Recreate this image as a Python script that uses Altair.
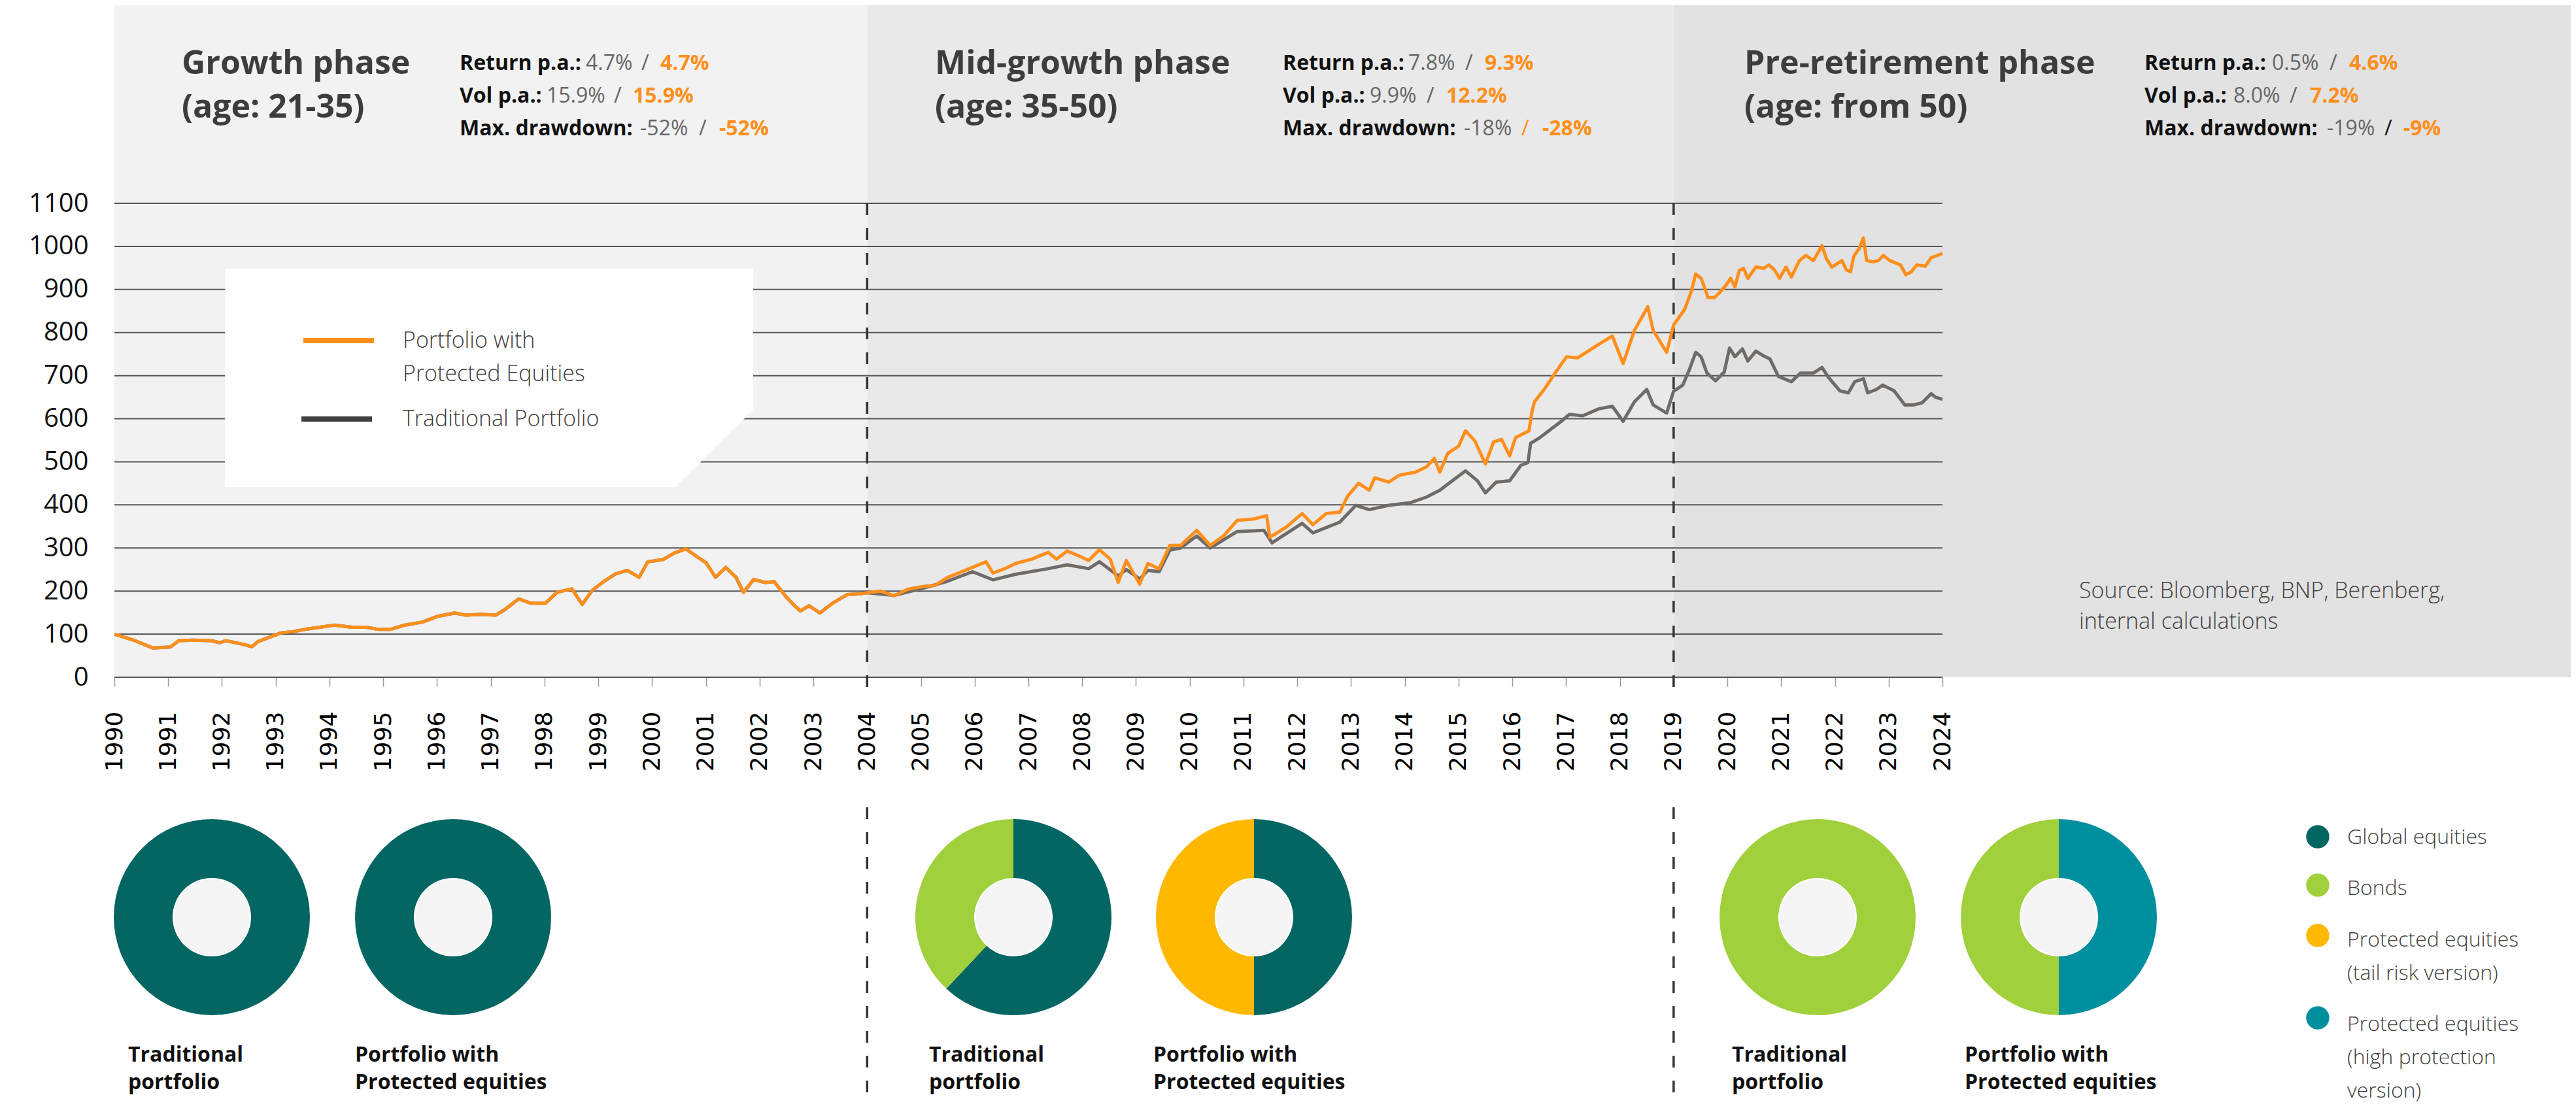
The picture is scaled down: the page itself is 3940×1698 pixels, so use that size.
import altair as alt
import pandas as pd

# ---------------- data ----------------
growth_years = [1990.0, 1990.38, 1990.71, 1991.04, 1991.2, 1991.47, 1991.8, 1991.96, 1992.07, 1992.34,
                1992.56, 1992.67, 1992.89, 1993.1, 1993.33, 1993.54, 1993.82, 1994.09, 1994.42, 1994.69,
                1994.91, 1995.13, 1995.4, 1995.73, 1996.0, 1996.33, 1996.54, 1996.82, 1997.09, 1997.25,
                1997.52, 1997.74, 1998.02, 1998.23, 1998.51, 1998.7, 1998.89, 1999.1, 1999.32, 1999.54,
                1999.76, 1999.92, 2000.2, 2000.41, 2000.63, 2000.8, 2001.01, 2001.18, 2001.37, 2001.56,
                2001.7, 2001.89, 2002.1, 2002.27, 2002.49, 2002.65, 2002.76, 2002.92, 2003.12, 2003.36,
                2003.63, 2003.9]
growth_values = [100, 85, 68, 70, 85, 86, 85, 80, 85, 78,
                 71, 83, 93, 103, 106, 111, 116, 121, 116, 116,
                 111, 111, 121, 128, 141, 149, 144, 146, 144, 156,
                 182, 172, 172, 197, 205, 169, 202, 222, 240, 248,
                 232, 268, 273, 288, 298, 283, 265, 232, 255, 232,
                 197, 227, 220, 222, 187, 166, 154, 166, 149, 172,
                 192, 194]

mid_years_protected = [2004.0, 2004.25, 2004.5, 2004.75, 2005.05, 2005.26, 2005.5, 2005.76, 2005.96, 2006.21,
                       2006.34, 2006.56, 2006.76, 2007.06, 2007.37, 2007.52, 2007.72, 2007.97, 2008.12, 2008.32,
                       2008.52, 2008.67, 2008.82, 2009.07, 2009.22, 2009.43, 2009.63, 2009.83, 2010.13, 2010.38,
                       2010.63, 2010.88, 2011.18, 2011.43, 2011.49, 2011.79, 2012.09, 2012.29, 2012.54, 2012.79,
                       2012.94, 2013.14, 2013.34, 2013.44, 2013.7, 2013.9, 2014.2, 2014.4, 2014.55, 2014.65,
                       2014.8, 2015.0, 2015.13, 2015.3, 2015.5, 2015.65, 2015.8, 2015.95, 2016.06, 2016.31,
                       2016.36, 2016.41, 2016.61, 2016.81, 2017.01, 2017.21, 2017.41, 2017.61, 2017.86, 2018.06,
                       2018.27, 2018.52, 2018.62, 2018.87, 2019.0]
mid_values_protected = [196, 200, 189, 204, 211, 213, 232, 245, 255, 268,
                        242, 252, 264, 274, 290, 274, 293, 280, 271, 296,
                        274, 220, 271, 216, 264, 252, 306, 306, 341, 306,
                        328, 364, 367, 375, 325, 348, 380, 354, 380, 383,
                        421, 450, 434, 463, 453, 469, 476, 488, 508, 476,
                        520, 536, 572, 549, 495, 546, 552, 514, 556, 572,
                        613, 639, 671, 709, 744, 741, 757, 773, 792, 728,
                        805, 860, 805, 754, 818]

mid_years_traditional = [2004.0, 2004.5, 2005.05, 2005.5, 2005.96, 2006.34, 2006.76, 2007.37, 2007.72, 2008.12,
                         2008.32, 2008.67, 2008.82, 2009.07, 2009.22, 2009.43, 2009.63, 2009.83, 2010.13, 2010.38,
                         2010.88, 2011.38, 2011.53, 2012.09, 2012.29, 2012.79, 2013.09, 2013.34, 2013.7, 2014.1,
                         2014.4, 2014.65, 2014.85, 2015.13, 2015.35, 2015.5, 2015.7, 2015.95, 2016.16, 2016.29,
                         2016.34, 2016.51, 2016.71, 2016.91, 2017.06, 2017.31, 2017.61, 2017.86, 2018.06, 2018.27,
                         2018.5, 2018.62, 2018.87, 2019.0]
mid_values_traditional = [196, 190, 207, 223, 245, 226, 239, 252, 261, 252,
                          268, 235, 250, 228, 248, 245, 295, 300, 328, 300,
                          338, 341, 312, 357, 335, 360, 399, 389, 399, 405,
                          418, 434, 453, 479, 456, 428, 453, 456, 492, 498,
                          543, 556, 575, 594, 610, 607, 623, 629, 594, 639,
                          668, 632, 613, 664]

pre_years_protected = [2019.07, 2019.21, 2019.33, 2019.41, 2019.51, 2019.6, 2019.64, 2019.76, 2019.88, 2019.98,
                       2020.06, 2020.14, 2020.22, 2020.3, 2020.38, 2020.53, 2020.67, 2020.77, 2020.87, 2020.97,
                       2021.09, 2021.19, 2021.34, 2021.46, 2021.6, 2021.76, 2021.84, 2021.94, 2022.13, 2022.21,
                       2022.29, 2022.35, 2022.45, 2022.53, 2022.59, 2022.71, 2022.81, 2022.9, 2023.02, 2023.22,
                       2023.32, 2023.42, 2023.52, 2023.68, 2023.79, 2023.91, 2024.0]
pre_values_protected = [830, 855, 896, 936, 926, 896, 881, 881, 896, 911,
                        926, 906, 944, 949, 926, 952, 949, 957, 946, 926,
                        952, 929, 967, 979, 967, 1002, 972, 952, 967, 946,
                        941, 977, 995, 1020, 967, 964, 967, 979, 967, 957,
                        934, 941, 957, 954, 974, 979, 984]

pre_years_traditional = [2019.17, 2019.29, 2019.41, 2019.51, 2019.62, 2019.78, 2019.94, 2020.04, 2020.14, 2020.28,
                         2020.38, 2020.53, 2020.67, 2020.79, 2020.95, 2021.19, 2021.36, 2021.6, 2021.76, 2021.88,
                         2022.09, 2022.25, 2022.37, 2022.53, 2022.61, 2022.77, 2022.89, 2023.1, 2023.3, 2023.46,
                         2023.62, 2023.79, 2023.87, 2024.0]
pre_values_traditional = [678, 713, 754, 744, 706, 688, 708, 764, 744, 762,
                          734, 757, 746, 739, 698, 686, 706, 706, 719, 696,
                          665, 660, 686, 693, 660, 668, 678, 665, 632, 632,
                          637, 658, 650, 645]

y_ticks = list(range(0, 1101, 100))
x_ticks = list(range(1990, 2025))
phase_starts = [1990, 2004, 2019]
phase_ends = [2004, 2019]
phase_dividers = [2004, 2019]

phase_titles = [["Growth phase", "(age: 21-35)"],
                ["Mid-growth phase", "(age: 35-50)"],
                ["Pre-retirement phase", "(age: from 50)"]]
stat_labels = ["Return p.a.:", "Vol p.a.:", "Max. drawdown:"]
stat_traditional = [["4.7%", "15.9%", "-52%"], ["7.8%", "9.9%", "-18%"], ["0.5%", "8.0%", "-19%"]]
stat_protected = [["4.7%", "15.9%", "-52%"], ["9.3%", "12.2%", "-28%"], ["4.6%", "7.2%", "-9%"]]

series_names = ["Portfolio with Protected Equities", "Traditional Portfolio"]
legend_lines = [["Portfolio with", "Protected Equities"], ["Traditional Portfolio"]]
source_lines = ["Source: Bloomberg, BNP, Berenberg,", "internal calculations"]

asset_classes = ["Global equities", "Bonds",
                 "Protected equities (tail risk version)", "Protected equities (high protection version)"]
asset_legend_lines = [["Global equities"], ["Bonds"],
                      ["Protected equities", "(tail risk version)"],
                      ["Protected equities", "(high protection", "version)"]]
donut_assets = [["Global equities"],
                ["Global equities"],
                ["Global equities", "Bonds"],
                ["Global equities", "Protected equities (tail risk version)"],
                ["Bonds"],
                ["Protected equities (high protection version)", "Bonds"]]
donut_weights = [[100], [100], [62, 38], [50, 50], [100], [50, 50]]
donut_labels = [["Traditional", "portfolio"], ["Portfolio with", "Protected equities"]] * 3

# ---------------- styles / layout ----------------
ORANGE = "#ff8f1c"
GREY_LINE = "#6e6b68"
TXT_DARK = "#3d3d3d"
TXT_GREY = "#666666"
TXT_BLACK = "#111111"
asset_colors = ["#036663", "#a0d03c", "#ffb800", "#008f9f"]
phase_bg = ["#f2f2f2", "#e9e9e9", "#e2e2e2"]

W, H = 2796, 725
OX, OY = 175, 311          # page position of the plot origin


def px(x):
    return x - OX


def py(y):
    return y - OY


xs = alt.Scale(domain=[1990, 2024], nice=False, zero=False)
ys = alt.Scale(domain=[0, 1100], nice=False, zero=True)
x_axis = alt.Axis(values=x_ticks, format="d", labelAngle=270, labelFont="DejaVu Sans",
                  labelFontSize=36, labelColor="#000000", tickSize=14, tickColor="#9a9a9a",
                  tickWidth=1.5, domain=False, grid=False, labelPadding=38, title=None,
                  labelOverlap=False, labelFlush=False)
y_axis = alt.Axis(values=y_ticks, format="d", labelFont="Open Sans", labelFontSize=40,
                  labelColor="#111111", ticks=False, domain=False, grid=False, labelPadding=40,
                  title=None, labelOverlap=False, labelFlush=False)


def xenc(field):
    return alt.X(f"{field}:Q", scale=xs, axis=x_axis)


def yenc(field):
    return alt.Y(f"{field}:Q", scale=ys, axis=y_axis)


def one():
    return pd.DataFrame({"k": [0]})


def text_layer(s, x, y, size, color, weight="normal", font="Open Sans"):
    return alt.Chart(pd.DataFrame({"t": [s]})).mark_text(
        align="left", baseline="alphabetic", font=font, fontSize=size,
        fontWeight=weight, color=color
    ).encode(x=alt.value(px(x)), y=alt.value(py(y)), text="t:N")


layers = []

# phase backgrounds
bg12 = pd.DataFrame({"start": phase_starts[:2], "end": phase_ends})
for i in range(2):
    layers.append(alt.Chart(bg12.iloc[[i]]).mark_rect(color=phase_bg[i]).encode(
        x=xenc("start"), x2="end:Q", y=alt.value(-303), y2=alt.value(H)))
layers.append(alt.Chart(pd.DataFrame({"start": [phase_starts[2]]})).mark_rect(color=phase_bg[2]).encode(
    x=xenc("start"), x2=alt.value(3760), y=alt.value(-303), y2=alt.value(H)))

# gridlines
layers.append(alt.Chart(pd.DataFrame({"v": y_ticks})).mark_rule(color="#555555", strokeWidth=2).encode(
    y=yenc("v"), x=alt.value(0), x2=alt.value(W)))

# legend box (white panel with a cut corner)
hw = 404.0
box_path = "M -1 -0.4134 L 1 -0.4134 L 1 0.1213 L 0.7054 0.4134 L -1 0.4134 Z"
layers.append(alt.Chart(one()).mark_point(shape=box_path, filled=True, color="white", opacity=1,
                                          size=(2 * hw) ** 2, strokeWidth=0).encode(
    x=alt.value(px(748)), y=alt.value(py(578))))
layers.append(alt.Chart(one()).mark_rule(color=ORANGE, strokeWidth=8).encode(
    x=alt.value(px(464)), x2=alt.value(px(572)), y=alt.value(py(521))))
layers.append(alt.Chart(one()).mark_rule(color="#404040", strokeWidth=8).encode(
    x=alt.value(px(461)), x2=alt.value(px(569)), y=alt.value(py(641))))
for s, yb in zip(legend_lines[0] + legend_lines[1], [532, 583, 652]):
    layers.append(text_layer(s, 616, yb, 34, "#404040", 300))

# phase divider dashed lines
div = pd.DataFrame({"year": phase_dividers})
for y0, y1 in [(311, 1057), (1235, 1692)]:
    layers.append(alt.Chart(div).mark_rule(color="#333333", strokeWidth=3.5, strokeDash=[18, 20]).encode(
        x=xenc("year"), y=alt.value(py(y0)), y2=alt.value(py(y1))))

# series
trad = pd.DataFrame({"year": growth_years + mid_years_traditional + pre_years_traditional,
                     "value": growth_values + mid_values_traditional + pre_values_traditional})
prot = pd.DataFrame({"year": growth_years + mid_years_protected + pre_years_protected,
                     "value": growth_values + mid_values_protected + pre_values_protected})
layers.append(alt.Chart(trad).mark_line(color=GREY_LINE, strokeWidth=5, strokeJoin="round").encode(
    x=xenc("year"), y=yenc("value")))
layers.append(alt.Chart(prot).mark_line(color=ORANGE, strokeWidth=5, strokeJoin="round").encode(
    x=xenc("year"), y=yenc("value")))

# phase headers
title_x = [278, 1430, 2668]
for i in range(3):
    for line, yb in zip(phase_titles[i], [113, 180]):
        layers.append(text_layer(line, title_x[i], yb, 50, TXT_DARK, "bold"))

stat_x = [
    [[703, 896, 981, 1010], [703, 836, 939, 968], [703, 979, 1069, 1100]],
    [[1962, 2154, 2241, 2271], [1962, 2095, 2182, 2212], [1962, 2239, 2327, 2359]],
    [[3280, 3475, 3563, 3593], [3280, 3416, 3502, 3533], [3280, 3559, 3647, 3676]],
]
slash_color = [[TXT_GREY] * 3, [TXT_GREY, TXT_GREY, ORANGE], [TXT_GREY, TXT_GREY, TXT_BLACK]]
stat_base = [107, 157, 207]
for i in range(3):
    for j in range(3):
        xa, xb, xc, xd = stat_x[i][j]
        yb = stat_base[j]
        layers.append(text_layer(stat_labels[j], xa, yb, 32, TXT_BLACK, "bold"))
        layers.append(text_layer(stat_traditional[i][j], xb, yb, 32, TXT_GREY))
        layers.append(text_layer("/", xc, yb, 32, slash_color[i][j]))
        layers.append(text_layer(stat_protected[i][j], xd, yb, 32, ORANGE, "bold"))

# source
for s, yb in zip(source_lines, [915, 962]):
    layers.append(text_layer(s, 3180, yb, 34, "#404040", 300))

# donuts
donut_cx = [324, 693, 1550, 1918, 2780, 3149]
donut_cy = 1403
label_x = [196, 543, 1421, 1764, 2649, 3005]
for d in range(6):
    ddf = pd.DataFrame({"asset": donut_assets[d], "w": donut_weights[d],
                        "ord": list(range(len(donut_assets[d])))})
    layers.append(alt.Chart(ddf).mark_arc(innerRadius=60, outerRadius=150).encode(
        theta=alt.Theta("w:Q", stack=True, scale=alt.Scale(domain=[0, 100])),
        color=alt.Color("asset:N", scale=alt.Scale(domain=asset_classes, range=asset_colors), legend=None),
        order=alt.Order("ord:Q"),
        x=alt.value(px(donut_cx[d])), y=alt.value(py(donut_cy))))
    layers.append(alt.Chart(one()).mark_circle(size=3.14159 * 65.5 ** 2, color="#f5f5f5", opacity=1).encode(
        x=alt.value(px(donut_cx[d])), y=alt.value(py(donut_cy))))
    for s, yb in zip(donut_labels[d], [1624, 1666]):
        layers.append(text_layer(s, label_x[d], yb, 32, TXT_BLACK, "bold"))

# asset legend
leg_cy = [1280, 1354, 1431, 1557]
leg_base = [[1291], [1369], [1448, 1499], [1577, 1628, 1679]]
for k in range(4):
    layers.append(alt.Chart(one()).mark_circle(size=3.14159 * 20 ** 2, color=asset_colors[k], opacity=1).encode(
        x=alt.value(px(3545)), y=alt.value(py(leg_cy[k]))))
    for s, yb in zip(asset_legend_lines[k], leg_base[k]):
        layers.append(text_layer(s, 3590, yb, 32, "#404040", 300))

chart = alt.layer(*layers).properties(
    width=W, height=H,
    padding={"left": 167, "top": 303, "right": 961, "bottom": 654},
    autosize=alt.AutoSizeParams(type="none"),
    background="white",
).configure_view(stroke=None)

chart.save("out.html", embed_options={"renderer": "svg", "actions": False})
